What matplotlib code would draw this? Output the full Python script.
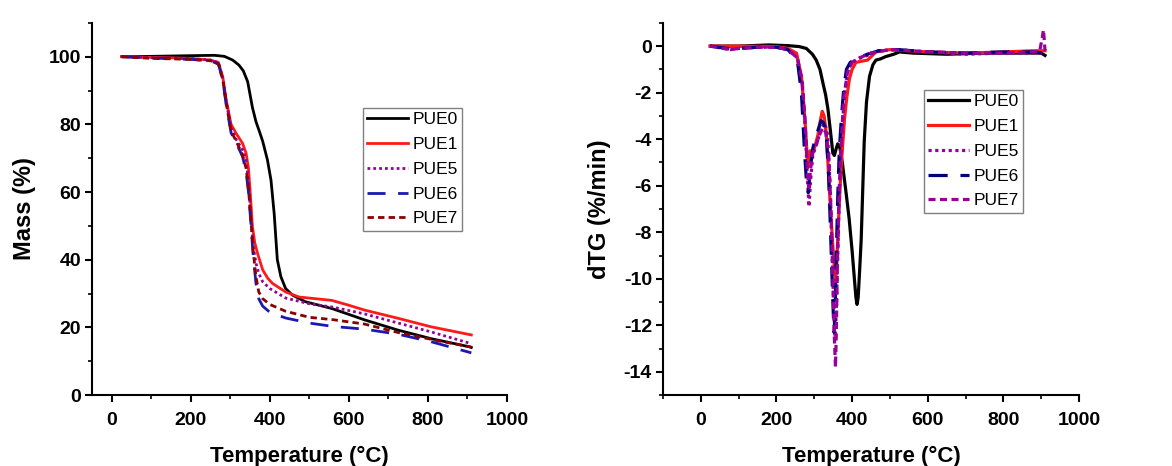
import matplotlib.pyplot as plt
from matplotlib.ticker import MultipleLocator

plt.rcParams['font.family'] = ['Liberation Sans', 'DejaVu Sans']
plt.rcParams['axes.unicode_minus'] = False

labels = ["PUE0", "PUE1", "PUE5", "PUE6", "PUE7"]

# --- TGA (mass loss) ---
tga0_t = [25, 100, 200, 260, 285, 306, 322, 333, 344, 356, 365, 374, 382, 394, 403, 411, 419, 428, 440, 457, 490, 557, 641, 725, 808, 905, 910]
tga0_m = [100.0, 100.1, 100.3, 100.4, 100.1, 99.0, 97.5, 95.8, 92.6, 85.0, 80.8, 77.8, 75.0, 69.5, 63.5, 53.7, 40.0, 35.0, 31.5, 29.6, 27.6, 25.6, 22.2, 19.2, 16.7, 14.3, 14.1]

tga1_t = [25, 100, 200, 250, 270, 281, 290, 302, 315, 331, 340, 346, 350, 356, 362, 369, 382, 395, 407, 440, 474, 557, 599, 641, 725, 808, 910]
tga1_m = [100, 99.8, 99.5, 99.0, 98.3, 94, 87, 80, 77.3, 74.4, 71.5, 67, 60.6, 49.8, 45, 41.9, 37, 34.5, 33, 30.5, 29, 28, 26.6, 25.1, 22.7, 20.2, 17.8]

tga_t = [25, 100, 200, 250, 270, 281, 290, 302, 315, 331, 340, 346, 352, 358, 365, 372, 382, 400, 440, 500, 560, 640, 725, 808, 910]
tga5_m = [100, 99.7, 99.4, 99.0, 98.2, 93.5, 86.5, 79, 75.5, 72.5, 69.5, 63, 53, 44, 39, 36, 33.5, 31.5, 28.7, 27, 26, 24, 21.3, 18.7, 15.2]
tga6_m = [100, 99.6, 99.2, 98.8, 97.8, 93, 85.5, 77.5, 74.5, 70.5, 66, 60, 51, 41, 33, 28.5, 26.3, 24.5, 22.8, 21.3, 20.3, 19.5, 18, 15.8, 12.5]
tga7_m = [100, 99.5, 99.2, 98.8, 97.9, 93.2, 86, 78, 75, 71, 67, 61, 52, 42.5, 35, 30.5, 28.5, 26.8, 24.8, 23, 22.3, 21, 18.5, 16.5, 14.2]

# --- dTG ---
dtg0_t = [25, 100, 180, 230, 260, 279, 295, 305, 315, 323, 330, 336, 343, 349, 353, 358, 362, 367, 374, 384, 392, 400, 406, 410, 413, 416, 420, 424, 428, 432, 438, 446, 455, 463, 475, 489, 510, 525, 560, 650, 750, 850, 900, 910]
dtg0_v = [0.0, 0.0, 0.05, 0.02, -0.02, -0.1, -0.35, -0.6, -1.0, -1.6, -2.1, -2.7, -3.7, -4.6, -4.7, -4.4, -4.2, -4.3, -5.0, -6.3, -7.4, -8.8, -10.0, -10.8, -11.1, -10.8, -9.6, -8.3, -6.2, -4.1, -2.4, -1.3, -0.8, -0.6, -0.55, -0.45, -0.35, -0.25, -0.3, -0.35, -0.3, -0.3, -0.3, -0.4]

dtg1_t = [25, 100, 200, 230, 253, 266, 275, 283, 286, 289, 295, 301, 310, 316, 321, 326, 332, 340, 346, 351, 356, 359, 362, 366, 371, 380, 386, 393, 400, 410, 425, 441, 463, 500, 600, 700, 800, 880, 910]
dtg1_v = [0.0, 0.0, -0.02, -0.1, -0.3, -1.3, -3.1, -5.2, -5.0, -4.5, -4.5, -4.35, -3.8, -3.2, -2.8, -3.0, -3.8, -6.2, -7.8, -9.1, -10.1, -9.6, -8.3, -6.8, -5.2, -3.1, -2.2, -1.4, -1.0, -0.7, -0.65, -0.6, -0.25, -0.15, -0.25, -0.3, -0.25, -0.2, -0.2]

dtg5_t = [25, 60, 80, 100, 150, 200, 230, 255, 268, 276, 282, 286, 290, 296, 302, 310, 320, 328, 335, 342, 348, 352, 355, 358, 362, 366, 372, 380, 390, 400, 415, 440, 470, 520, 600, 700, 800, 880, 910]
dtg5_v = [0.0, -0.1, -0.15, -0.1, -0.05, -0.05, -0.15, -0.5, -1.6, -3.5, -5.8, -6.9, -5.8, -4.7, -4.4, -4.0, -3.5, -3.3, -3.8, -6.0, -9.5, -11.5, -12.5, -11.5, -9.0, -6.5, -4.0, -2.0, -1.0, -0.7, -0.55, -0.4, -0.2, -0.15, -0.25, -0.35, -0.3, -0.3, -0.3]

dtg6_t = [25, 60, 80, 100, 150, 200, 230, 255, 266, 274, 280, 284, 290, 296, 302, 310, 318, 325, 332, 338, 343, 348, 352, 355, 358, 362, 366, 372, 378, 385, 395, 410, 440, 470, 520, 600, 700, 800, 880, 910]
dtg6_v = [0.0, -0.08, -0.12, -0.1, -0.05, -0.05, -0.15, -0.6, -2.0, -4.5, -6.0, -6.3, -5.2, -4.4, -4.0, -3.6, -3.2, -3.3, -3.9, -5.6, -8.0, -10.5, -12.3, -11.5, -9.0, -6.5, -4.5, -3.0, -1.8, -1.0, -0.7, -0.55, -0.35, -0.2, -0.15, -0.25, -0.3, -0.25, -0.25, -0.3]

dtg7_t = [25, 60, 80, 100, 150, 200, 230, 255, 268, 276, 282, 286, 290, 296, 302, 312, 322, 330, 338, 344, 349, 353, 356, 358, 361, 365, 370, 378, 388, 400, 420, 450, 500, 600, 700, 800, 880, 896, 902, 906, 910]
dtg7_v = [0.0, -0.1, -0.15, -0.1, -0.05, -0.05, -0.15, -0.5, -1.5, -3.3, -5.5, -6.1, -5.3, -4.6, -4.4, -3.9, -3.5, -3.7, -4.6, -7.0, -10.0, -12.5, -13.8, -12.5, -9.5, -6.5, -4.5, -2.2, -1.1, -0.7, -0.5, -0.3, -0.15, -0.25, -0.3, -0.3, -0.25, -0.2, 0.3, 0.7, -0.2]

fig = plt.figure(figsize=(11.72, 4.66), dpi=100)
ax1 = fig.add_axes([0.0785, 0.152, 0.354, 0.799])
ax2 = fig.add_axes([0.5657, 0.152, 0.355, 0.799])

lw = 2.0
ax1.plot(tga0_t, tga0_m, color='black', lw=lw, label=labels[0])
ax1.plot(tga1_t, tga1_m, color='#ff1a1a', lw=lw, label=labels[1])
ax1.plot(tga_t, tga5_m, color='#990099', lw=lw, dashes=(1, 1.1), label=labels[2])
ax1.plot(tga_t, tga6_m, color='#1a1ab3', lw=lw, dashes=(6.5, 4.5), label=labels[3])
ax1.plot(tga_t, tga7_m, color='#8b0000', lw=lw, dashes=(2.3, 1.5), label=labels[4])

lw = 2.3
ax2.plot(dtg0_t, dtg0_v, color='black', lw=lw, label=labels[0])
ax2.plot(dtg1_t, dtg1_v, color='#ff1a1a', lw=lw, label=labels[1])
ax2.plot(dtg5_t, dtg5_v, color='#990099', lw=lw, dashes=(1, 1.1), label=labels[2])
ax2.plot(dtg6_t, dtg6_v, color='#00007f', lw=lw, dashes=(6, 4), label=labels[3])
ax2.plot(dtg7_t, dtg7_v, color='#990099', lw=lw, dashes=(2.2, 1.4), label=labels[4])

ax1.set_xlim(-50, 1000)
ax1.set_ylim(0, 110)
ax1.yaxis.set_major_locator(MultipleLocator(20))
ax1.yaxis.set_minor_locator(MultipleLocator(10))
ax1.set_ylabel("Mass (%)", fontsize=17, fontweight='bold', labelpad=9)

ax2.set_xlim(-100, 1000)
ax2.set_ylim(-15, 1)
ax2.yaxis.set_major_locator(MultipleLocator(2))
ax2.yaxis.set_minor_locator(MultipleLocator(1))
ax2.set_ylabel("dTG (%/min)", fontsize=17, fontweight='bold', labelpad=9)

for ax in [ax1, ax2]:
    ax.xaxis.set_major_locator(MultipleLocator(200))
    ax.xaxis.set_minor_locator(MultipleLocator(100))
    ax.set_xlabel("Temperature (°C)", fontsize=16, fontweight='bold', labelpad=12)
    ax.spines['top'].set_visible(False)
    ax.spines['right'].set_visible(False)
    ax.spines['left'].set_linewidth(1.5)
    ax.spines['bottom'].set_linewidth(1.5)
    ax.tick_params(which='major', length=5, width=1.5, labelsize=14)
    ax.tick_params(which='minor', length=3, width=1.2)
    ax.tick_params(axis='x', which='major', pad=7)
    ax.tick_params(axis='y', which='major', pad=3)
    for t in ax.get_xticklabels() + ax.get_yticklabels():
        t.set_fontweight('bold')

leg_kw = dict(fontsize=12.5, frameon=True, fancybox=False, framealpha=1,
              edgecolor='#808080', handlelength=2.35, handletextpad=0.25,
              labelspacing=0.55, borderpad=0.25, borderaxespad=0, loc='upper left')
l1 = ax1.legend(bbox_to_anchor=(363 / 1172, 1 - 108 / 466), bbox_transform=fig.transFigure, **leg_kw)
l2 = ax2.legend(bbox_to_anchor=(924 / 1172, 1 - 90 / 466), bbox_transform=fig.transFigure, **leg_kw)
for l in [l1, l2]:
    l.get_frame().set_linewidth(1.0)

fig.savefig("out.png", dpi=100)
